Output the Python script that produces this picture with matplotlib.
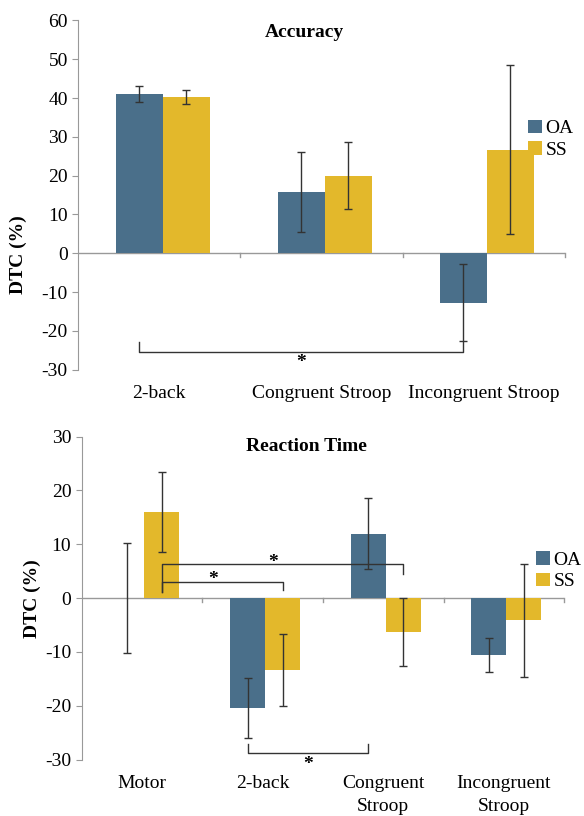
import matplotlib
matplotlib.use("Agg")
import matplotlib.pyplot as plt
import numpy as np

plt.rcParams["font.family"] = ["Liberation Serif", "DejaVu Serif"]
plt.rcParams["axes.unicode_minus"] = False

OA_COLOR = "#4a6f8a"
SS_COLOR = "#e3b82b"
ERR_COLOR = "#333333"

# Accuracy panel
acc_labels = ["2-back", "Congruent Stroop", "Incongruent Stroop"]
acc_oa = [41.0, 15.8, -12.7]
acc_oa_err = [2.0, 10.3, 10.0]
acc_ss = [40.3, 20.0, 26.7]
acc_ss_err = [1.8, 8.7, 21.8]
# (category a, group a, category b, group b, level, drop a, drop b, star side)
acc_sig = [(0, "OA", 2, "OA", -25.4, 2.4, 2.4, "below")]

# Reaction time panel
rt_labels = ["Motor", "2-back", "Congruent\nStroop", "Incongruent\nStroop"]
rt_oa = [0.0, -20.4, 12.0, -10.6]
rt_oa_err = [10.2, 5.6, 6.6, 3.2]
rt_ss = [16.0, -13.4, -6.3, -4.1]
rt_ss_err = [7.5, 6.7, 6.3, 10.5]
rt_sig = [
    (0, "SS", 1, "SS", 3.0, -1.8, -1.5, "above"),
    (0, "SS", 2, "SS", 6.3, -5.1, -1.8, "above"),
    (1, "OA", 2, "OA", -28.7, 1.6, 1.6, "below"),
]

WIDTH = 0.29
SHIFT = 0.02


def panel(ax, labels, oa, oa_err, ss, ss_err, sig, title, ylim, legend_anchor):
    x = np.arange(len(labels))
    offs = {"OA": -WIDTH / 2 + SHIFT, "SS": WIDTH / 2 + SHIFT}
    ax.bar(x + offs["OA"], oa, WIDTH, color=OA_COLOR, label="OA", zorder=2)
    ax.bar(x + offs["SS"], ss, WIDTH, color=SS_COLOR, label="SS", zorder=2)
    for xs, vals, errs in [(x + offs["OA"], oa, oa_err), (x + offs["SS"], ss, ss_err)]:
        ax.errorbar(xs, vals, yerr=errs, fmt="none", ecolor=ERR_COLOR,
                    elinewidth=1, capsize=3, capthick=1, zorder=3)

    # zero line with category boundary ticks
    ax.axhline(0, color="#999999", lw=1, zorder=1)
    tick_len = (ylim[1] - ylim[0]) * 0.012
    for b in np.arange(0.5, len(labels), 1.0):
        ax.plot([b, b], [0, -tick_len], color="#999999", lw=1, zorder=1,
                clip_on=False)

    # significance brackets
    for ca, ga, cb, gb, lvl, da, db, pos in sig:
        xa = ca + offs[ga]
        xb = cb + offs[gb]
        ax.plot([xa, xa, xb, xb], [lvl + da, lvl, lvl, lvl + db],
                color=ERR_COLOR, lw=1, zorder=4)
        if pos == "below":
            ax.text((xa + xb) / 2, lvl - 0.6, "*", ha="center", va="top",
                    fontsize=14, fontweight="bold")
        else:
            ax.text((xa + xb) / 2 - 0.08, lvl - 1.2, "*", ha="center", va="bottom",
                    fontsize=14, fontweight="bold")

    ax.set_xlim(-0.5, len(labels) - 0.5)
    ax.set_ylim(*ylim)
    ax.set_yticks(np.arange(ylim[0], ylim[1] + 1, 10))
    ax.set_xticks(x)
    ax.set_xticklabels(labels, fontsize=14, linespacing=1.5)
    ax.tick_params(axis="x", length=0, pad=11)
    ax.tick_params(axis="y", labelsize=14, length=4, color="#999999", direction="out")
    for s in ["top", "right", "bottom"]:
        ax.spines[s].set_visible(False)
    ax.spines["left"].set_color("#999999")
    ax.set_ylabel("DTC (%)", fontsize=14, fontweight="bold")
    ax.set_title(title, fontsize=14, fontweight="bold", x=0.465, y=0.93)
    ax.legend(loc="center left", bbox_to_anchor=legend_anchor, frameon=False,
              fontsize=14, handlelength=0.7, handleheight=0.7, handletextpad=0.2,
              labelspacing=0.2, borderaxespad=0, borderpad=0)


fig = plt.figure(figsize=(5.84, 8.16), dpi=100)
ax1 = fig.add_axes([0.134, 0.547, 0.833, 0.428])
ax2 = fig.add_axes([0.140, 0.069, 0.826, 0.396])

panel(ax1, acc_labels, acc_oa, acc_oa_err, acc_ss, acc_ss_err, acc_sig,
      "Accuracy", (-30, 60), (0.925, 0.66))
panel(ax2, rt_labels, rt_oa, rt_oa_err, rt_ss, rt_ss_err, rt_sig,
      "Reaction Time", (-30, 30), (0.942, 0.585))

ax1.yaxis.set_label_coords(-0.105, 0.33)
ax2.yaxis.set_label_coords(-0.085, 0.5)

fig.savefig("out.png", dpi=100)
